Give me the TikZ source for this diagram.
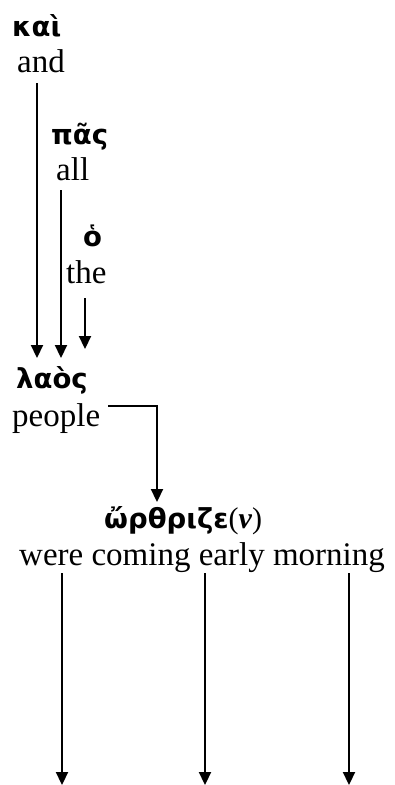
\documentclass[tikz,border=0pt]{standalone}
\usepackage{fontspec}
\setmainfont{Liberation Serif}
\newfontfamily\grk{DejaVu Sans}
\usetikzlibrary{arrows.meta}
\begin{document}
\begin{tikzpicture}[x=1pt,y=-1pt,
  gk/.style={anchor=base west,inner sep=0pt,font=\grk\bfseries\fontsize{27.5}{32}\selectfont},
  en/.style={anchor=base west,inner sep=0pt,font=\fontsize{33}{38}\selectfont},
  arr/.style={line width=2.2pt,-{Triangle[width=12pt,length=13pt]}}]
\useasboundingbox (0,0) rectangle (394,785);
% words
\node[gk] (kai) at (12,36) {καὶ};
\node[en] (and) at (17,72) {and};
\node[gk] (pas) at (51,144) {πᾶς};
\node[en] (all) at (56,180) {all};
\node[gk] (ho) at (83,246) {ὁ};
\node[en] (the) at (66,283) {the};
\node[gk] (laos) at (16,388) {λαὸς};
\node[en] (people) at (12,426) {people};
\node[gk] (orth) at (104,528) {ὤρθριζε{\rmfamily\mdseries\fontsize{30}{34}\selectfont(\textbf{\textit{ν}})}};
\node[en] (were) at (19,565) {were coming early morning};
% connector end points
\coordinate (a1s) at (37,83);  \coordinate (a1e) at (37,358);
\coordinate (a2s) at (61,190); \coordinate (a2e) at (61,358);
\coordinate (a3s) at (85,298); \coordinate (a3e) at (85,349);
\coordinate (a4s) at (108,406); \coordinate (a4c) at (157,406); \coordinate (a4e) at (157,502);
\coordinate (b1s) at (62,573); \coordinate (b1e) at (62,785);
\coordinate (b2s) at (205,573); \coordinate (b2e) at (205,785);
\coordinate (b3s) at (349,573); \coordinate (b3e) at (349,785);
% connectors
\draw[arr] (a1s) -- (a1e);
\draw[arr] (a2s) -- (a2e);
\draw[arr] (a3s) -- (a3e);
\draw[arr] (a4s) -- (a4c) -- (a4e);
\draw[arr] (b1s) -- (b1e);
\draw[arr] (b2s) -- (b2e);
\draw[arr] (b3s) -- (b3e);
\end{tikzpicture}
\end{document}
